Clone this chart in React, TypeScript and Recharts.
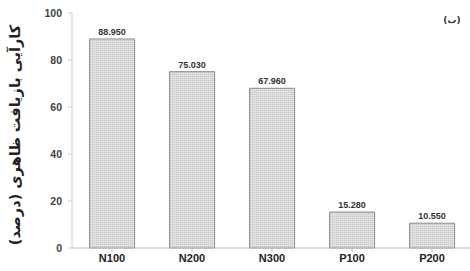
import { BarChart, Bar, XAxis, YAxis, LabelList } from "recharts";

const categories = ["N100", "N200", "N300", "P100", "P200"];
const values = [88.95, 75.03, 67.96, 15.28, 10.55];
const yTicks = [0, 20, 40, 60, 80, 100];
const yTitle = "کارآیی بازیافت ظاهری (درصد)";
const panelTag = "(ب)";

const data = categories.map((c, i) => ({ name: c, value: values[i] }));

const font = "'Liberation Sans', Arial, sans-serif";

export default function App() {
  return (
    <div style={{ position: "absolute", left: 0, top: 0, width: 470, height: 271, overflow: "hidden", background: "#fff" }}>
      <BarChart
        width={474}
        height={271}
        data={data}
        margin={{ top: 13, right: 2, bottom: 0, left: 20 }}
        barCategoryGap="22%"
      >
        <defs>
          <pattern id="dots" width="2" height="2" patternUnits="userSpaceOnUse">
            <rect width="2" height="2" fill="#e0e0e0" />
            <rect width="1" height="1" fill="#c4c4c4" />
          </pattern>
        </defs>
        <XAxis
          dataKey="name"
          height={23}
          stroke="#bdbdbd"
          tickLine={{ stroke: "#bdbdbd" }}
          tickSize={4}
          interval={0}
          tick={{ fill: "#222", fontSize: 11, fontWeight: 700, fontFamily: font }}
        />
        <YAxis
          width={52}
          domain={[0, 100]}
          ticks={yTicks}
          stroke="#cfcfcf"
          tickLine={{ stroke: "#cfcfcf" }}
          tickSize={4}
          tickMargin={6}
          tick={{ fill: "#444", fontSize: 10.5, fontWeight: 700, fontFamily: font }}
          label={{
            content: () => (
              <text
                x={16}
                y={135}
                transform="rotate(-90 16 135)"
                textAnchor="middle"
                dominantBaseline="middle"
                fill="#222"
                fontSize={14.5}
                fontWeight={700}
                fontFamily="'DejaVu Sans', sans-serif"
              >
                {yTitle}
              </text>
            ),
          }}
        />
        <Bar dataKey="value" fill="url(#dots)" stroke="#8a8a8a" strokeWidth={1} isAnimationActive={false}>
          <LabelList
            dataKey="value"
            position="top"
            offset={4}
            formatter={(v: number) => v.toFixed(3)}
            style={{ fill: "#333", fontSize: 9, fontWeight: 700, fontFamily: font }}
          />
        </Bar>
        <text x={452} y={23} textAnchor="middle" fill="#333" fontSize={9} fontWeight={700} fontFamily="'DejaVu Sans', sans-serif">
          {panelTag}
        </text>
      </BarChart>
    </div>
  );
}
